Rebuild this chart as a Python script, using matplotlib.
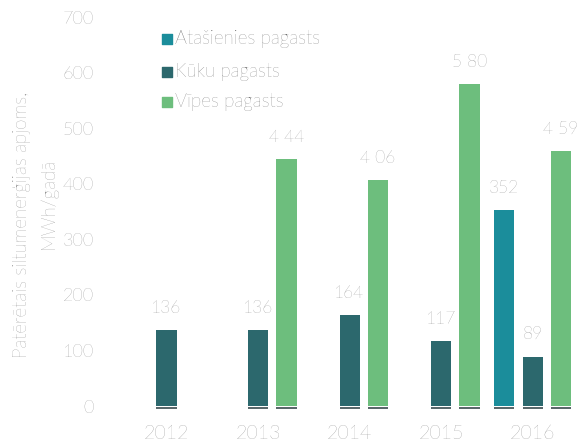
import numpy as np
import matplotlib
matplotlib.use("Agg")
from matplotlib import pyplot as plt

# data
years = ["2012", "2013", "2014", "2015", "2016"]
series = ["Atašienies pagasts", "Kūku pagasts", "Vīpes pagasts"]
atasienes = [0, 0, 0, 0, 352]
kuku = [136, 136, 164, 117, 89]
vipes = [0, 444, 406, 580, 459]
labels_atas = ["", "", "", "", "352"]
labels_kuku = ["136", "136", "164", "117", "89"]
labels_vipes = ["", "4 44", "4 06", "5 80", "4 59"]
colors = ["#1b8d9b", "#2c686d", "#6dbe7d"]

plt.rcParams['font.family'] = ['Lato', 'DejaVu Sans']
txt = "#6e6e6e"

fig = plt.figure(figsize=(5.82, 4.43), dpi=100)
ax = fig.add_axes([0.195, 0.0835, 0.805, 0.878])

x = np.arange(len(years))
w = 0.22
off = 0.31
for vals, labs, c, dx in zip([atasienes, kuku, vipes],
                             [labels_atas, labels_kuku, labels_vipes],
                             colors, [-off, 0, off]):
    v = np.array(vals)
    ax.bar(x + dx, v, width=w, color=c)
    for xi, vi, li in zip(x + dx, v, labs):
        if vi > 0:
            # thin dark underline below each bar
            ax.plot([xi - w / 2, xi + w / 2], [-4, -4], color="#3a4a4e", lw=1.2,
                    solid_capstyle="butt", clip_on=False)
            ax.text(xi, vi + 40, li, ha="center", va="center", fontsize=12.5,
                    color=txt, fontweight="light")

# legend: squares + text
for i, (name, c) in enumerate(zip(series, colors)):
    ly = [660, 601, 547][i]
    ax.scatter([0.0], [ly], marker="s", s=55, color=c, clip_on=False)
    ax.text(0.09, ly, name, ha="left", va="center", fontsize=13.5, color="#505050",
            fontweight="light")

ax.set_xlim(-0.58, 4.54)
ax.set_ylim(0, 700)
ax.set_yticks(range(0, 701, 100))
ax.set_xticks(x)
ax.set_xticklabels(years)
ax.tick_params(axis="y", length=0, labelsize=13, labelcolor=txt, pad=14)
ax.tick_params(axis="x", length=0, labelsize=14, labelcolor=txt, pad=14)
for lab in ax.get_yticklabels() + ax.get_xticklabels():
    lab.set_fontweight("light")
for s in ax.spines.values():
    s.set_visible(False)

fig.text(0.038, 0.492, "Patērētais siltumenerģijas apjoms,", rotation=90,
         ha="center", va="center", fontsize=13.5, color=txt, fontweight="light")
fig.text(0.084, 0.54, "MWh/gadā", rotation=90, ha="center", va="center",
         fontsize=13.5, color=txt, fontweight="light")

fig.savefig("out.png", dpi=100)
